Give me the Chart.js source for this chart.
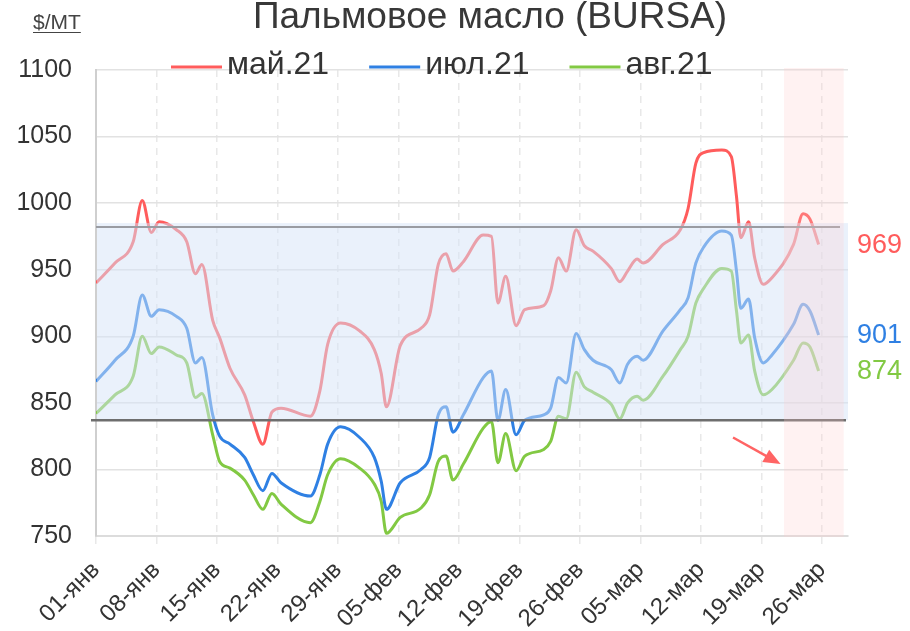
<!DOCTYPE html>
<html>
<head>
<meta charset="utf-8">
<script src="https://cdn.jsdelivr.net/npm/chart.js@4.4.1/dist/chart.umd.min.js"></script>
<style>
    html, body { margin: 0; padding: 0; background: #fff; }
    #wrap { width: 910px; height: 631px; }
</style>
</head>
<body>
<div id="wrap"><canvas id="chart" width="910" height="631"></canvas></div>
<script>
// days since 01-янв
const dayIndex = [0, 2.2, 4.3, 5.35, 6.4, 7.3, 9.3, 10.5, 11.5, 12.25, 13.5, 14.3, 15.5, 17.2, 18.2, 19.3, 20.35, 21.4, 24.8, 25.9, 26.8,
    28.3, 30.5, 32.2, 33.0, 33.6, 35.2, 37.6, 38.6, 39.6, 40.5, 41.3, 42.5, 44.8, 45.75, 46.5, 47.4, 48.6, 49.6, 51.8, 52.6,
    53.5, 54.4, 55.55, 56.5, 57.5, 59.6, 60.6, 61.5, 62.6, 63.3, 65.6, 67.6, 68.5, 69.4, 70.3, 72.4, 73.5, 74.1, 74.6, 75.5,
    76.2, 77.2, 78.2, 80.7, 81.8, 82.6, 83.6];

const may21 = [940, 955, 971, 1002, 978, 986, 980, 971, 947, 954, 912, 899, 876, 856, 836, 819, 843, 846, 840, 859, 894,
    910, 904, 890, 872, 847, 893, 906, 916, 954, 962, 949, 956, 976, 975, 925, 945, 908, 920, 923, 934,
    959, 949, 980, 968, 964, 951, 941, 949, 958, 955, 969, 980, 996, 1030, 1038, 1040, 1035, 1005, 974, 986,
    959, 939, 944, 969, 992, 988, 969];

const jul21 = [866, 882, 900, 931, 915, 920, 915, 906, 880, 884, 841, 825, 819, 809, 796, 784, 797, 790, 780, 796, 819,
    832, 824, 809, 791, 770, 790, 800, 809, 841, 847, 828, 841, 869, 874, 837, 860, 826, 837, 841, 846,
    869, 865, 902, 890, 882, 875, 865, 879, 885, 882, 904, 920, 929, 955, 967, 979, 976, 949, 921, 928,
    899, 880, 886, 909, 924, 919, 901];

const aug21 = [842, 856, 870, 900, 887, 892, 886, 880, 854, 857, 826, 806, 801, 792, 781, 770, 782, 774, 760, 776, 796,
    808, 801, 789, 776, 752, 764, 771, 781, 806, 810, 792, 804, 831, 836, 805, 827, 799, 810, 815, 821,
    840, 838, 873, 862, 858, 849, 838, 850, 855, 852, 870, 890, 900, 925, 936, 951, 949, 919, 895, 901,
    874, 856, 860, 882, 895, 892, 874];

const seriesNames = ['май.21', 'июл.21', 'авг.21'];
const seriesColors = ['#ff5c5c', '#2f80e3', '#82c943'];
const tickLabels = ['01-янв', '08-янв', '15-янв', '22-янв', '29-янв', '05-фев', '12-фев', '19-фев', '26-фев', '05-мар', '12-мар', '19-мар', '26-мар'];

const chartTitle = 'Пальмовое масло (BURSA)';
const unitLabel = '$/MT';

// коридор и линии
const bandRange = [837, 985];
const bandTop = 982;
const bandBottom = 837;
// розовая зона справа (в днях)
const zoneRange = [79.6, 86.5];
// стрелка (день, значение)
const arrowFrom = [73.7, 824];
const arrowTo = [79.2, 804];

const FONT = '"Liberation Sans", Arial, Helvetica, sans-serif';

const datasets = [may21, jul21, aug21].map((values, i) => ({
    label: seriesNames[i],
    data: dayIndex.map((d, k) => ({ x: d, y: values[k] })),
    borderColor: seriesColors[i],
    backgroundColor: seriesColors[i],
    borderWidth: 3,
    pointRadius: 0,
    cubicInterpolationMode: 'monotone',
    fill: false
}));

const overlayPlugin = {
    id: 'overlay',
    afterDatasetsDraw(chart) {
        const ctx = chart.ctx;
        const area = chart.chartArea;
        const xs = chart.scales.x;
        const ys = chart.scales.y;
        ctx.save();

        // полупрозрачный коридор поверх линий
        ctx.fillStyle = 'rgba(213, 227, 247, 0.5)';
        const bTop = ys.getPixelForValue(bandRange[1]);
        const bBot = ys.getPixelForValue(bandRange[0]);
        ctx.fillRect(area.left + 1, bTop, area.right - area.left - 1, bBot - bTop);

        ctx.lineWidth = 2;
        ctx.strokeStyle = '#9a9ca2';
        let y = ys.getPixelForValue(bandTop);
        ctx.beginPath();
        ctx.moveTo(area.left, y);
        ctx.lineTo(area.right - 8, y);
        ctx.stroke();

        ctx.lineWidth = 2.5;
        ctx.strokeStyle = '#6e6e6e';
        y = ys.getPixelForValue(bandBottom);
        ctx.beginPath();
        ctx.moveTo(area.left - 5, y);
        ctx.lineTo(area.right - 2, y);
        ctx.stroke();

        // розовая зона
        ctx.fillStyle = 'rgba(255, 205, 205, 0.25)';
        const z0 = xs.getPixelForValue(zoneRange[0]);
        const z1 = xs.getPixelForValue(zoneRange[1]);
        ctx.fillRect(z0, area.top - 2, z1 - z0, area.bottom - area.top + 3);

        // стрелка
        const ax0 = xs.getPixelForValue(arrowFrom[0]), ay0 = ys.getPixelForValue(arrowFrom[1]);
        const ax1 = xs.getPixelForValue(arrowTo[0]), ay1 = ys.getPixelForValue(arrowTo[1]);
        const ang = Math.atan2(ay1 - ay0, ax1 - ax0);
        const head = 17;
        ctx.strokeStyle = '#ff6464';
        ctx.fillStyle = '#ff6464';
        ctx.lineWidth = 2.5;
        ctx.beginPath();
        ctx.moveTo(ax0, ay0);
        ctx.lineTo(ax1 - head * 0.8 * Math.cos(ang), ay1 - head * 0.8 * Math.sin(ang));
        ctx.stroke();
        ctx.beginPath();
        ctx.moveTo(ax1, ay1);
        ctx.lineTo(ax1 - head * Math.cos(ang) + 7 * Math.sin(ang), ay1 - head * Math.sin(ang) - 7 * Math.cos(ang));
        ctx.lineTo(ax1 - head * Math.cos(ang) - 7 * Math.sin(ang), ay1 - head * Math.sin(ang) + 7 * Math.cos(ang));
        ctx.closePath();
        ctx.fill();
        ctx.restore();
    },
    afterDraw(chart) {
        const ctx = chart.ctx;
        const ys = chart.scales.y;
        ctx.save();

        // заголовок
        ctx.fillStyle = '#383838';
        ctx.font = '37px ' + FONT;
        ctx.textAlign = 'center';
        ctx.textBaseline = 'alphabetic';
        ctx.fillText(chartTitle, 490, 28);

        // единицы
        ctx.font = '21px ' + FONT;
        ctx.textAlign = 'left';
        ctx.fillStyle = '#444';
        ctx.fillText(unitLabel, 33, 29);
        const uw = ctx.measureText(unitLabel).width;
        ctx.strokeStyle = '#444';
        ctx.lineWidth = 1.2;
        ctx.beginPath();
        ctx.moveTo(33, 32.5);
        ctx.lineTo(33 + uw, 32.5);
        ctx.stroke();

        // легенда
        ctx.font = '32px ' + FONT;
        ctx.textBaseline = 'middle';
        let lx = 171;
        chart.data.datasets.forEach(ds => {
            ctx.strokeStyle = ds.borderColor;
            ctx.lineWidth = 3;
            ctx.beginPath();
            ctx.moveTo(lx, 67);
            ctx.lineTo(lx + 51, 67);
            ctx.stroke();
            ctx.fillStyle = '#333';
            ctx.fillText(ds.label, lx + 56, 65);
            lx += 56 + ctx.measureText(ds.label).width + 40;
        });

        // последние значения справа
        ctx.font = '27px ' + FONT;
        chart.data.datasets.forEach(ds => {
            const last = ds.data[ds.data.length - 1].y;
            ctx.fillStyle = ds.borderColor;
            ctx.fillText(String(last), 857, ys.getPixelForValue(last) + 1);
        });
        ctx.restore();
    }
};

const ctx = document.getElementById('chart').getContext('2d');
new Chart(ctx, {
    type: 'line',
    data: { datasets: datasets },
    options: {
        responsive: false,
        animation: false,
        devicePixelRatio: 1,
        layout: { padding: { top: 70, right: 62, left: 0, bottom: 0 } },
        plugins: {
            legend: { display: false },
            title: { display: false },
            tooltip: { enabled: false }
        },
        scales: {
            x: {
                type: 'linear',
                min: 0,
                max: 87,
                afterBuildTicks: (scale) => {
                    // одна метка на неделю
                    scale.ticks = tickLabels.map((t, i) => ({ value: i * 7 }));
                },
                afterFit: (scale) => { scale.height = 95; },
                ticks: {
                    autoSkip: false,
                    minRotation: 45,
                    maxRotation: 45,
                    padding: 12,
                    color: '#333',
                    font: { size: 24, family: FONT },
                    callback: (v) => tickLabels[Math.round(v / 7)]
                },
                grid: { color: '#e8e8e8', lineWidth: 1.5, tickLength: 8 },
                border: { color: '#dcdcdc', width: 2, dash: [7, 6] }
            },
            y: {
                min: 750,
                max: 1100,
                afterFit: (scale) => { scale.width = 96; },
                ticks: {
                    stepSize: 50,
                    padding: 24,
                    color: '#333',
                    font: { size: 25, family: FONT },
                    callback: (v) => String(v)
                },
                grid: { color: '#e2e2e2', lineWidth: 1.5, drawTicks: false },
                border: { color: '#cfcfcf', width: 2 }
            }
        }
    },
    plugins: [overlayPlugin]
});
</script>
</body>
</html>
